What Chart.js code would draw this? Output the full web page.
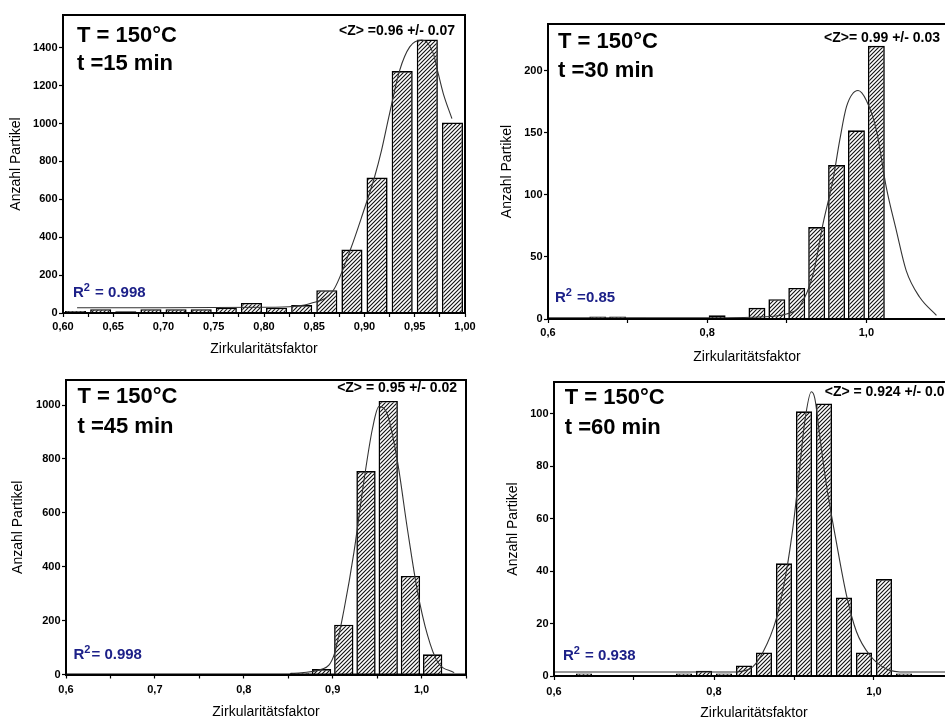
<!DOCTYPE html>
<html>
<head>
<meta charset="utf-8">
<script src="https://cdn.jsdelivr.net/npm/chart.js@4.4.1/dist/chart.umd.min.js"></script>
<style>
  html, body { margin: 0; padding: 0; background: #fff; }
  body { position: relative; width: 945px; height: 721px; overflow: hidden; }
  canvas { position: absolute; }
</style>
</head>
<body>
<canvas id="c15"></canvas>
<canvas id="c30"></canvas>
<canvas id="c45"></canvas>
<canvas id="c60"></canvas>
<script>
// ---- t = 15 min ----
const p1Bins = [0.6125, 0.6375, 0.6625, 0.6875, 0.7125, 0.7375, 0.7625, 0.7875, 0.8125, 0.8375, 0.8625, 0.8875, 0.9125, 0.9375, 0.9625, 0.9875];
const p1Counts = [11, 20, 9, 20, 20, 20, 28, 53, 28, 42, 120, 335, 715, 1277, 1444, 1006];
const p1FitX = [0.614, 0.70, 0.80, 0.83, 0.846, 0.869, 0.886, 0.898, 0.910, 0.917, 0.924, 0.935, 0.945, 0.957, 0.9685, 0.9734, 0.9784, 0.987];
const p1FitY = [28, 28, 30, 36, 50, 120, 335, 520, 718, 860, 1030, 1281, 1405, 1441, 1369, 1263, 1158, 1026];
const p1XMajor = [0.60, 0.65, 0.70, 0.75, 0.80, 0.85, 0.90, 0.95, 1.00];
const p1XMinor = [0.625, 0.675, 0.725, 0.775, 0.825, 0.875, 0.925, 0.975];
const p1YTicks = [0, 200, 400, 600, 800, 1000, 1200, 1400];

// ---- t = 30 min ----
const p2Bins = [0.6625, 0.6875, 0.7125, 0.8125, 0.8375, 0.8625, 0.8875, 0.9125, 0.9375, 0.9625, 0.9875, 1.0125];
const p2Counts = [2, 2, 1, 3, 1, 9, 16, 25, 74, 124, 152, 220];
const p2FitX = [0.60, 0.80, 0.88, 0.8996, 0.916, 0.933, 0.9456, 0.958, 0.9665, 0.975, 0.9895, 1.0, 1.0126, 1.025, 1.0377, 1.05, 1.067, 1.088];
const p2FitY = [1, 1, 2, 4, 10, 36, 77, 112, 144, 171, 184, 176, 152, 106, 71, 39, 17.5, 3];
const p2XMajor = [0.6, 0.8, 1.0];
const p2XMinor = [0.7, 0.9, 1.1];
const p2YTicks = [0, 50, 100, 150, 200];

// ---- t = 45 min ----
const p3Bins = [0.8625, 0.8875, 0.9125, 0.9375, 0.9625, 0.9875, 1.0125];
const p3Counts = [5, 20, 185, 755, 1015, 366, 75];
const p3FitX = [0.8527, 0.890, 0.9015, 0.913, 0.924, 0.935, 0.9448, 0.952, 0.9617, 0.973, 0.984, 0.9955, 1.0067, 1.018, 1.0367];
const p3FitY = [4, 22, 72, 245, 455, 715, 913, 994, 963, 789, 542, 307, 146, 47, 7];
const p3XMajor = [0.6, 0.7, 0.8, 0.9, 1.0];
const p3XMinor = [0.65, 0.75, 0.85, 0.95, 1.05];
const p3YTicks = [0, 200, 400, 600, 800, 1000];

// ---- t = 60 min ----
const p4Bins = [0.6375, 0.7625, 0.7875, 0.8125, 0.8375, 0.8625, 0.8875, 0.9125, 0.9375, 0.9625, 0.9875, 1.0125, 1.0375];
const p4Counts = [1, 1, 2, 1, 4, 9, 43, 101, 104, 30, 9, 37, 1];
const p4FitX = [0.60, 0.8196, 0.8446, 0.861, 0.878, 0.8905, 0.899, 0.907, 0.9134, 0.9217, 0.926, 0.932, 0.9405, 0.953, 0.9655, 0.978, 0.9946, 1.0155, 1.04, 1.1];
const p4FitY = [1.5, 1.5, 2.7, 9, 22, 40, 57.5, 79, 97, 108.5, 106, 92, 73, 51, 31, 17, 8, 2.7, 1.5, 1.5];
const p4XMajor = [0.6, 0.8, 1.0];
const p4XMinor = [0.7, 0.9, 1.1];
const p4YTicks = [0, 20, 40, 60, 80, 100];

const FONT = '"Liberation Sans", Arial, Helvetica, sans-serif';
Chart.defaults.font.family = FONT;

// diagonal "/" hatching used as bar fill
function hatch() {
  const c = document.createElement('canvas');
  c.width = 4; c.height = 4;
  const g = c.getContext('2d');
  g.fillStyle = '#fff';
  g.fillRect(0, 0, 4, 4);
  g.strokeStyle = '#111';
  g.lineWidth = 1.1;
  g.beginPath();
  g.moveTo(0, 4); g.lineTo(4, 0);
  g.moveTo(-1, 1); g.lineTo(1, -1);
  g.moveTo(3, 5); g.lineTo(5, 3);
  g.stroke();
  return g.createPattern(c, 'repeat');
}

// frame round the plot plus the text labels inside it
const annotate = {
  id: 'annotate',
  afterDatasetsDraw(chart, args, o) {
    const { ctx, chartArea: a } = chart;
    ctx.save();
    ctx.lineWidth = 2;
    ctx.strokeStyle = '#000';
    ctx.strokeRect(a.left, a.top, a.right - a.left, a.bottom - a.top);

    ctx.fillStyle = '#000';
    ctx.textBaseline = 'alphabetic';
    ctx.textAlign = 'left';
    ctx.font = 'bold 22px ' + FONT;
    ctx.fillText(o.temp, a.left + o.tx, a.top + o.tBase);
    ctx.fillText(o.time, a.left + o.tx, a.top + o.t2Base);

    ctx.font = 'bold 14px ' + FONT;
    ctx.textAlign = o.zAlign;
    const zx = o.zAlign === 'right' ? a.right + o.zx : a.left + o.zx;
    ctx.fillText(o.mean, zx, a.top + o.zBase);

    ctx.textAlign = 'left';
    ctx.fillStyle = '#1c2088';
    let x = a.left + o.rx;
    const y = a.bottom + o.rBase;
    ctx.font = 'bold 15px ' + FONT;
    ctx.fillText('R', x, y);
    x += ctx.measureText('R').width;
    ctx.font = 'bold 11px ' + FONT;
    ctx.fillText('2', x, y - 6);
    x += ctx.measureText('2').width + 1;
    ctx.font = 'bold 15px ' + FONT;
    ctx.fillText(o.r2, x, y);
    ctx.restore();
  }
};

function makePanel(p) {
  const el = document.getElementById(p.id);
  el.width = p.width;
  el.height = p.height;
  el.style.left = p.left + 'px';
  el.style.top = p.top + 'px';

  const xTicks = p.xMajor.concat(p.xMinor).sort((a, b) => a - b);
  const isMajor = (v) => p.xMajor.some((m) => Math.abs(m - v) < 1e-6);

  new Chart(el, {
    type: 'bar',
    data: {
      datasets: [
        {
          type: 'line',
          data: p.fitX.map((x, i) => ({ x, y: p.fitY[i] })),
          borderColor: '#333',
          borderWidth: 1.1,
          pointRadius: 0,
          cubicInterpolationMode: 'monotone',
          order: 0,
        },
        {
          type: 'bar',
          data: p.bins.map((x, i) => ({ x, y: p.counts[i] })),
          backgroundColor: hatch(),
          borderColor: '#000',
          borderWidth: 1.6,
          barPercentage: p.barPct,
          categoryPercentage: 1,
          order: 1,
        },
      ],
    },
    options: {
      responsive: false,
      animation: false,
      devicePixelRatio: 1,
      layout: { padding: { left: 0, top: p.area.top, right: p.width - p.area.right, bottom: 0 } },
      plugins: {
        legend: { display: false },
        tooltip: { enabled: false },
        annotate: p.text,
      },
      scales: {
        x: {
          type: 'linear',
          min: p.xMin,
          max: p.xMax,
          offset: false,
          afterBuildTicks: (s) => { s.ticks = xTicks.map((v) => ({ value: v })); },
          afterFit: (s) => {
            s.height = p.height - p.area.bottom;
            s.paddingLeft = 0; s.paddingRight = 0;
          },
          ticks: {
            autoSkip: false,
            maxRotation: 0,
            padding: p.xLabelPad,
            color: '#000',
            font: { size: 11, weight: 'bold' },
            callback: (v) => (isMajor(v) ? v.toFixed(p.decimals).replace('.', ',') : ''),
          },
          grid: { drawOnChartArea: false, tickLength: 4, color: '#000', tickWidth: 1.2, offset: false },
          border: { color: '#000', width: 2 },
          title: {
            display: true,
            text: 'Zirkularitätsfaktor',
            color: '#000',
            font: { size: 14 },
            padding: { top: 0, bottom: p.xTitlePad },
          },
        },
        y: {
          min: 0,
          max: p.yMax,
          afterBuildTicks: (s) => { s.ticks = p.yTicks.map((v) => ({ value: v })); },
          afterFit: (s) => {
            s.width = p.area.left;
            s.paddingTop = 0; s.paddingBottom = 0;
          },
          ticks: {
            padding: 1.5,
            color: '#000',
            font: { size: 11, weight: 'bold' },
            callback: (v) => String(v),
          },
          grid: { drawOnChartArea: false, tickLength: 4, color: '#000', tickWidth: 1.2 },
          border: { color: '#000', width: 2 },
          title: {
            display: true,
            text: 'Anzahl Partikel',
            color: '#000',
            font: { size: 14 },
            padding: { top: p.yTitlePad, bottom: 0 },
          },
        },
      },
    },
    plugins: [annotate],
  });
}

makePanel({
  id: 'c15', left: 0, top: 0, width: 490, height: 360,
  area: { left: 63, top: 15, right: 465, bottom: 313 },
  bins: p1Bins, counts: p1Counts, fitX: p1FitX, fitY: p1FitY,
  xMin: 0.6, xMax: 1.0, yMax: 1573, xMajor: p1XMajor, xMinor: p1XMinor, yTicks: p1YTicks,
  decimals: 2, barPct: 0.84, xLabelPad: 3, xTitlePad: 2.3, yTitlePad: 7.6,
  text: { temp: 'T = 150°C', time: 't =15 min', tx: 14, tBase: 27, t2Base: 55,
          mean: '<Z> =0.96 +/- 0.07', zAlign: 'right', zx: -10, zBase: 20,
          r2: ' = 0.998', rx: 10, rBase: -16 },
});

makePanel({
  id: 'c30', left: 470, top: 0, width: 480, height: 372,
  area: { left: 78, top: 24, right: 476, bottom: 319 },
  bins: p2Bins, counts: p2Counts, fitX: p2FitX, fitY: p2FitY,
  xMin: 0.6, xMax: 1.1, yMax: 237.6, xMajor: p2XMajor, xMinor: p2XMinor, yTicks: p2YTicks,
  decimals: 1, barPct: 0.85, xLabelPad: 3.4, xTitlePad: 6.3, yTitlePad: 28.3,
  text: { temp: 'T = 150°C', time: 't =30 min', tx: 10, tBase: 24, t2Base: 53,
          mean: '<Z>= 0.99 +/- 0.03', zAlign: 'right', zx: -6, zBase: 18,
          r2: ' =0.85', rx: 7, rBase: -17 },
});

makePanel({
  id: 'c45', left: 0, top: 360, width: 470, height: 361,
  area: { left: 66, top: 20, right: 466, bottom: 314.5 },
  bins: p3Bins, counts: p3Counts, fitX: p3FitX, fitY: p3FitY,
  xMin: 0.6, xMax: 1.05, yMax: 1093, xMajor: p3XMajor, xMinor: p3XMinor, yTicks: p3YTicks,
  decimals: 1, barPct: 0.87, xLabelPad: 4.9, xTitlePad: 0.9, yTitlePad: 9.9,
  text: { temp: 'T = 150°C', time: 't =45 min', tx: 11.5, tBase: 22.7, t2Base: 52.7,
          mean: '<Z> = 0.95 +/- 0.02', zAlign: 'right', zx: -9, zBase: 11.7,
          r2: '= 0.998', rx: 7.5, rBase: -16 },
});

makePanel({
  id: 'c60', left: 470, top: 360, width: 490, height: 362,
  area: { left: 84, top: 22, right: 484, bottom: 316 },
  bins: p4Bins, counts: p4Counts, fitX: p4FitX, fitY: p4FitY,
  xMin: 0.6, xMax: 1.1, yMax: 112.2, xMajor: p4XMajor, xMinor: p4XMinor, yTicks: p4YTicks,
  decimals: 1, barPct: 0.8, xLabelPad: 5.1, xTitlePad: 0.3, yTitlePad: 34.9,
  text: { temp: 'T = 150°C', time: 't =60 min', tx: 10.7, tBase: 22.3, t2Base: 52.3,
          mean: '<Z> = 0.924 +/- 0.03', zAlign: 'left', zx: 270.7, zBase: 14.3,
          r2: ' = 0.938', rx: 9, rBase: -16 },
});
</script>
</body>
</html>
